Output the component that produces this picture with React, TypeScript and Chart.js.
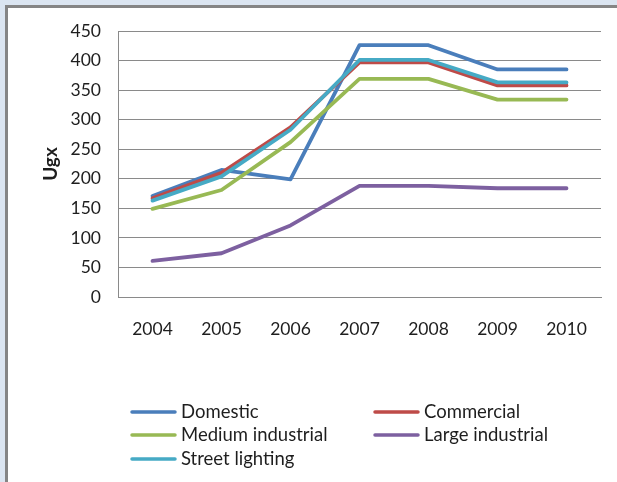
import React, { useEffect, useRef } from "react";
import { Chart, registerables } from "chart.js";

Chart.register(...registerables);

const years = ["2004", "2005", "2006", "2007", "2008", "2009", "2010"];
const domestic = [171, 215, 199, 426, 426, 385, 385];
const commercial = [167, 210, 287, 397, 397, 358, 358];
const mediumIndustrial = [149, 181, 262, 369, 369, 334, 334];
const largeIndustrial = [61, 74, 121, 188, 188, 184, 184];
const streetLighting = [163, 204, 283, 401, 401, 363, 363];

const seriesNames = ["Domestic", "Commercial", "Medium industrial", "Large industrial", "Street lighting"];
const seriesColors = ["#4A7EBB", "#BE4B48", "#98B954", "#7D60A0", "#46AAC5"];
const seriesValues = [domestic, commercial, mediumIndustrial, largeIndustrial, streetLighting];

const FONT = "Lato, 'Open Sans', sans-serif";
const TEXT = "#1e1e1e";
const GRID = "#8a8a8a";

const legendPlugin = {
  id: "gridLegend",
  afterDraw(chart: any) {
    const ctx = chart.ctx;
    const cols = [{ lx: 132, tx: 181 }, { lx: 375, tx: 424 }];
    const rows = [412, 435, 459];
    ctx.save();
    ctx.font = `18.5px ${FONT}`;
    ctx.textBaseline = "middle";
    ctx.textAlign = "left";
    chart.data.datasets.forEach((ds: any, i: number) => {
      const c = cols[i % 2];
      const y = rows[Math.floor(i / 2)];
      ctx.strokeStyle = ds.borderColor;
      ctx.lineWidth = 3.5;
      ctx.lineCap = "round";
      ctx.beginPath();
      ctx.moveTo(c.lx, y);
      ctx.lineTo(c.lx + 43, y);
      ctx.stroke();
      ctx.fillStyle = TEXT;
      ctx.fillText(ds.label, c.tx, y);
    });
    ctx.restore();
  },
};

export default function App() {
  const ref = useRef<HTMLCanvasElement | null>(null);
  useEffect(() => {
    if (!ref.current) return;
    const chart = new Chart(ref.current, {
      type: "line",
      data: {
        labels: years,
        datasets: seriesNames.map((name, i) => ({
          label: name,
          data: seriesValues[i],
          borderColor: seriesColors[i],
          backgroundColor: seriesColors[i],
          borderWidth: 3.8,
          pointRadius: 0,
          tension: 0,
          borderCapStyle: "round",
          borderJoinStyle: "round",
          order: seriesNames.length - i,
        })),
      },
      options: {
        animation: false,
        responsive: false,
        layout: { padding: { left: 0, top: 31, right: 16, bottom: 0 } },
        plugins: { legend: { display: false }, tooltip: { enabled: false } },
        scales: {
          x: {
            offset: true,
            grid: { display: false, drawTicks: false },
            border: { display: true, color: GRID, width: 1 },
            ticks: { color: TEXT, font: { family: FONT, size: 17.5 }, padding: 22, maxRotation: 0 },
            afterFit: (s: any) => { s.height = 482 - 297; },
          },
          y: {
            min: 0,
            max: 450,
            grid: { color: GRID, lineWidth: 1, drawTicks: false },
            border: { display: true, color: GRID, width: 1 },
            ticks: { stepSize: 50, color: TEXT, font: { family: FONT, size: 17.5 }, padding: 17 },
            title: {
              display: true,
              text: "Ugx",
              color: TEXT,
              font: { family: FONT, size: 19, weight: "bold" },
              padding: { top: 39, bottom: 0 },
            },
            afterFit: (s: any) => { s.width = 118; },
          },
        },
      },
      plugins: [legendPlugin],
    });
    return () => chart.destroy();
  }, []);

  return (
    <div style={{ position: "fixed", left: 0, top: 0, width: 617, height: 482, background: "#DBE5F1", overflow: "hidden" }}>
      <div
        style={{
          position: "absolute",
          left: 5,
          top: 5,
          right: 0,
          bottom: 0,
          background: "#ffffff",
          borderLeft: "3px solid #858585",
          borderTop: "3px solid #858585",
        }}
      />
      <canvas ref={ref} width={617} height={482} style={{ position: "absolute", left: 0, top: 0 }} />
    </div>
  );
}
